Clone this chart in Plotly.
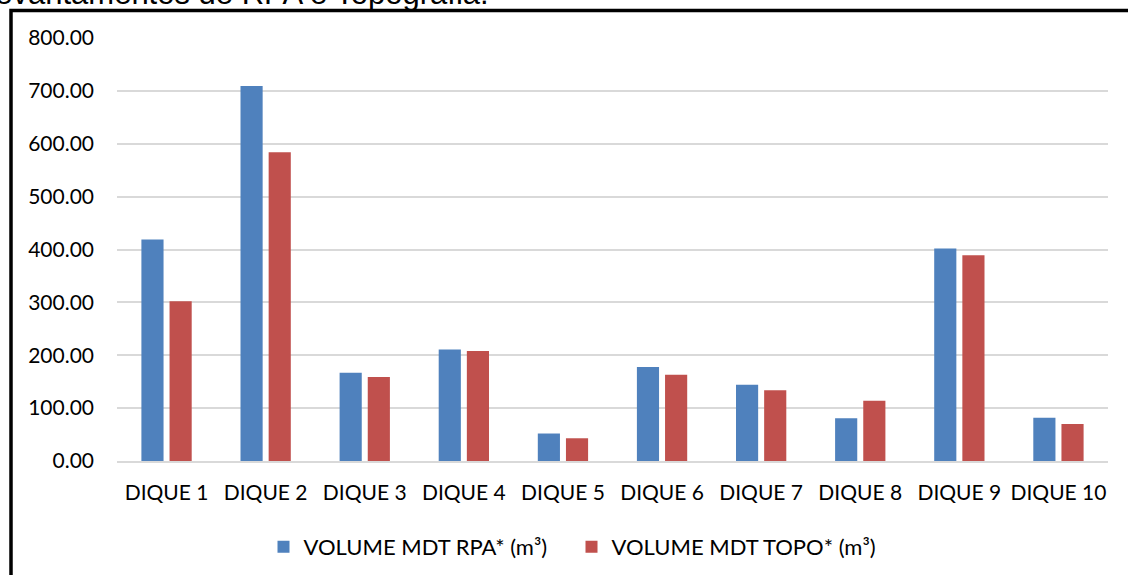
import plotly.graph_objects as go

categories = ["DIQUE 1", "DIQUE 2", "DIQUE 3", "DIQUE 4", "DIQUE 5",
              "DIQUE 6", "DIQUE 7", "DIQUE 8", "DIQUE 9", "DIQUE 10"]
rpa_values = [419, 709, 167, 211, 52, 178, 144, 81, 402, 82]
topo_values = [302, 584, 159, 208, 43, 163, 134, 114, 389, 70]
series_names = ["VOLUME MDT RPA* (m³)", "VOLUME MDT TOPO* (m³)"]
y_ticks = [0, 100, 200, 300, 400, 500, 600, 700, 800]
title_text = "Levantamentos de RPA e Topografia."

W, H = 1128, 575
L, R, T, B = 117, 20, 38, 114
pw, ph = W - L - R, H - T - B

def px_x(x):
    return (x - L) / pw

def px_y(y):
    return (H - B - y) / ph

FONT = "Lato"

fig = go.Figure()
fig.add_trace(go.Bar(x=categories, y=rpa_values, name=series_names[0],
                     marker=dict(color="#4F81BD", line=dict(width=0))))
fig.add_trace(go.Bar(x=categories, y=topo_values, name=series_names[1],
                     marker=dict(color="#C0504D", line=dict(width=0))))

fig.update_layout(
    width=W, height=H,
    margin=dict(l=L, r=R, t=T, b=B, pad=0, autoexpand=False),
    paper_bgcolor="white", plot_bgcolor="white",
    barmode="group", bargap=0.432, bargroupgap=0.213,
    font=dict(family=FONT, size=21, color="#000000"),
    showlegend=True,
    legend=dict(orientation="h", x=px_x(571.5), xanchor="center",
                y=px_y(547), yanchor="middle",
                entrywidth=263, entrywidthmode="pixels",
                font=dict(family=FONT, size=22, color="#000000"),
                itemsizing="constant", traceorder="normal",
                bgcolor="rgba(0,0,0,0)"),
    xaxis=dict(showgrid=False, showline=True, linecolor="#D9D9D9", linewidth=2,
               ticks="", ticklabelstandoff=12, automargin=False,
               tickfont=dict(family=FONT, size=21, color="#000000")),
    yaxis=dict(range=[0, 800], tickvals=y_ticks, tickformat=".2f",
               showgrid=True, gridcolor="#D9D9D9", gridwidth=2,
               zeroline=False, showline=False, ticks="",
               ticklabelstandoff=22, automargin=False,
               tickfont=dict(family=FONT, size=21, color="#000000")),
    shapes=[dict(type="rect", xref="paper", yref="paper",
                 x0=px_x(11), x1=px_x(1200), y0=px_y(700), y1=px_y(10.5),
                 line=dict(color="black", width=3.5), fillcolor="rgba(0,0,0,0)",
                 layer="above")],
    annotations=[dict(text=title_text, xref="paper", yref="paper",
                      x=px_x(491), y=px_y(13), xanchor="right", yanchor="bottom",
                      showarrow=False,
                      font=dict(family="Liberation Sans", size=31, color="#000000"))],
)

fig.write_html("out.html", config={"displayModeBar": False},
               post_script="document.body.style.margin='0';document.body.style.padding='0';")
